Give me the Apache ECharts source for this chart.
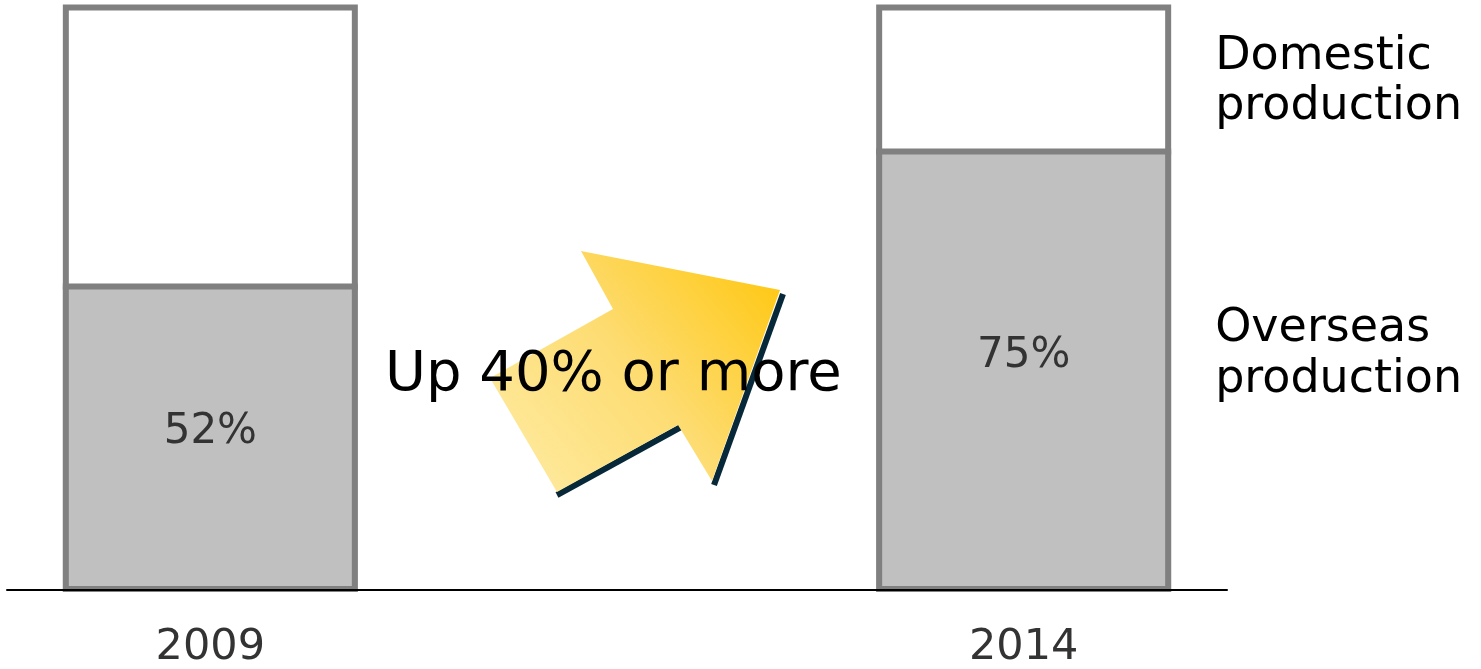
<!DOCTYPE html>
<html>
<head>
<meta charset="utf-8">
<script src="https://cdn.jsdelivr.net/npm/echarts@6/dist/echarts.min.js"></script>
<style>
  html, body { margin: 0; padding: 0; background: #fff; }
  #chart { width: 1481px; height: 669px; }
</style>
</head>
<body>
<div id="chart"></div>
<script>
// Years on the category axis (the blank slot keeps the gap for the arrow)
const categories = ['2009', '', '2014'];
// Share of production, in percent
const overseas = [52, null, 75];
const domestic = [48, null, 25];
const legendNames = ['Domestic\nproduction', 'Overseas\nproduction'];
const changeText = 'Up 40% or more';

const FONT = '"DejaVu Sans", Verdana, sans-serif';
const BAR_W = 295;
const BORDER = 6;
const EDGE = '#808080';
const labelShift = [-7, 0, -16];

// one row per year: [category index, overseas, domestic]
const rows = [];
categories.forEach((c, i) => {
  if (overseas[i] != null) rows.push([i, overseas[i], domestic[i]]);
});

const chart = echarts.init(document.getElementById('chart'), null, { renderer: 'canvas' });

function renderStack(params, api) {
  const i = api.value(0);
  const ov = api.value(1);
  const dom = api.value(2);
  const base = api.coord([i, 0]);
  const mid = api.coord([i, ov]);
  const top = api.coord([i, ov + dom]);
  const x = base[0] - BAR_W / 2;
  const h = BORDER / 2;
  return {
    type: 'group',
    children: [
      { type: 'rect', shape: { x: x, y: top[1], width: BAR_W, height: mid[1] - top[1] },
        style: { fill: '#ffffff' } },
      { type: 'rect', shape: { x: x, y: mid[1], width: BAR_W, height: base[1] - mid[1] },
        style: { fill: '#c0c0c0' } },
      { type: 'line', shape: { x1: x, y1: mid[1], x2: x + BAR_W, y2: mid[1] },
        style: { stroke: EDGE, lineWidth: BORDER } },
      { type: 'rect',
        shape: { x: x + h, y: top[1] + h, width: BAR_W - BORDER, height: base[1] - top[1] - BORDER },
        style: { fill: null, stroke: EDGE, lineWidth: BORDER } },
      { type: 'text',
        style: {
          text: ov + '%', x: base[0], y: (mid[1] + base[1]) / 2 + labelShift[i],
          align: 'center', verticalAlign: 'middle',
          fill: '#333', font: '42px ' + FONT
        } }
    ]
  };
}

chart.setOption({
  animation: false,
  backgroundColor: '#ffffff',
  grid: { left: 7, right: 254, top: 4.5, bottom: 76, containLabel: false },
  xAxis: {
    type: 'category',
    data: categories,
    z: 10,
    offset: -2,
    axisLine: { lineStyle: { color: '#000', width: 2 } },
    axisTick: { show: false },
    axisLabel: { color: '#333', fontSize: 43, fontFamily: FONT, margin: 36, interval: 0 }
  },
  yAxis: {
    type: 'value', min: 0, max: 100, show: false,
    splitLine: { show: false }
  },
  series: [
    {
      name: 'Production share',
      type: 'custom',
      renderItem: renderStack,
      encode: { x: 0, y: [1, 2] },
      data: rows
    }
  ]
});

// Series names beside the 2014 bar
const barRight = chart.convertToPixel({ xAxisIndex: 0, yAxisIndex: 0 }, [2, 0])[0] + BAR_W / 2;
const legendX = barRight + 44;

chart.setOption({
  graphic: [
    {
      type: 'text', left: legendX, top: 32, z: 20,
      style: { text: legendNames[0], fill: '#000', font: '46px ' + FONT, lineHeight: 50 }
    },
    {
      type: 'text', left: legendX, top: 304, z: 20,
      style: { text: legendNames[1], fill: '#000', font: '46px ' + FONT, lineHeight: 51 }
    },
    // drop shadow of the arrow
    {
      type: 'polyline', z: 18,
      shape: { points: [[557, 495], [681, 427]] },
      style: { stroke: '#062838', lineWidth: 6, fill: null }
    },
    {
      type: 'polyline', z: 18,
      shape: { points: [[714, 485], [783, 294]] },
      style: { stroke: '#062838', lineWidth: 6, fill: null }
    },
    // upward arrow
    {
      type: 'polygon', z: 19,
      shape: {
        points: [[557, 492], [490, 378], [613, 309], [581, 251], [780, 290], [712, 481], [678, 425]]
      },
      style: {
        fill: new echarts.graphic.LinearGradient(0, 1, 1, 0, [
          { offset: 0, color: '#feeca6' },
          { offset: 0.5, color: '#fddc72' },
          { offset: 1, color: '#ffc60a' }
        ])
      }
    },
    {
      type: 'text', left: 385, top: 347, z: 21,
      style: { text: changeText, fill: '#000', font: '56px ' + FONT }
    }
  ]
});
</script>
</body>
</html>
